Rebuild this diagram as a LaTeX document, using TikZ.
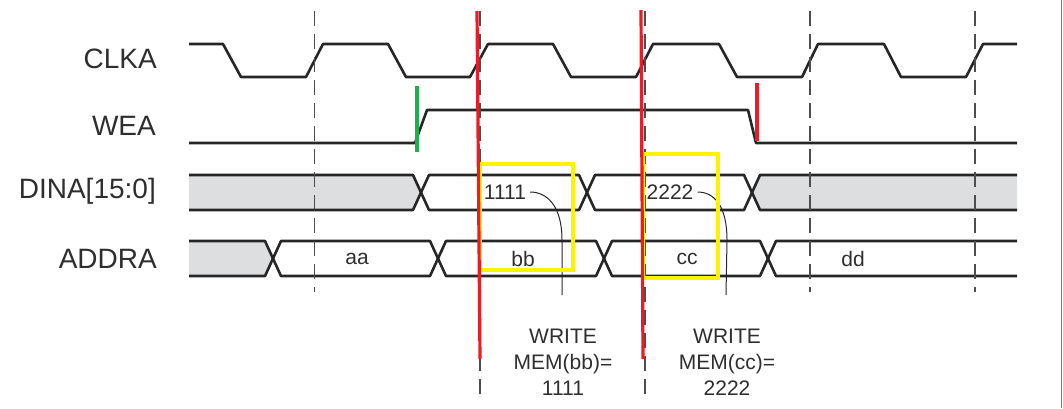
\documentclass[tikz,border=0pt]{standalone}
\usepackage{fontspec}
\setmainfont{Liberation Sans}
\definecolor{wave}{HTML}{262626}
\definecolor{txt}{HTML}{2E2E2E}
\definecolor{gridc}{HTML}{4D4D4D}
\definecolor{busgray}{HTML}{DDDEE0}
\definecolor{mred}{HTML}{ED1C24}
\definecolor{mgreen}{HTML}{1DB14B}
\definecolor{myellow}{HTML}{FFF200}
\definecolor{mblue}{HTML}{4A86C8}
\tikzset{
  wavel/.style={draw=wave, line width=2.6pt, line join=round},
  gridline/.style={draw=gridc, line width=1.8pt, dash pattern=on 15pt off 8pt},
  sig/.style={text=txt, font=\fontsize{28}{30}\selectfont, anchor=east, inner sep=0pt},
  val/.style={text=txt, font=\fontsize{21}{24}\selectfont, inner sep=0pt},
  note/.style={text=txt, font=\fontsize{21}{26}\selectfont, align=center, inner sep=0pt},
  pointer/.style={draw=wave, line width=1pt},
  markline/.style={line width=3.2pt},
  ybox/.style={draw=myellow, line width=3.2pt},
}
\begin{document}
\begin{tikzpicture}[x=1pt,y=-1pt]
\useasboundingbox (0,0) rectangle (1063,408);
% labels
\node[sig] (lclk) at (157,59) {CLKA};
\node[sig] (lwea) at (156,126) {WEA};
\node[sig] (ldin) at (156,191) {DINA[15:0]};
\node[sig] (ladr) at (157,259) {ADDRA};
% bus gray fills
\fill[busgray] (189,175) -- (413,175) -- (421,192.5) -- (413,210) -- (189,210) -- cycle;
\fill[busgray] (760,175) -- (1017,175) -- (1017,210) -- (760,210) -- (752,192.5) -- cycle;
\fill[busgray] (189,241) -- (265,241) -- (273,258.5) -- (265,276) -- (189,276) -- cycle;
% CLKA
\draw[wavel] (189,44) -- (223,44) -- (241,77) -- (306,77) -- (323,44) -- (388,44) -- (406,77)
  -- (470,77) -- (488,44) -- (553,44) -- (571,77) -- (636,77) -- (653,44) -- (719,44)
  -- (737,77) -- (802,77) -- (818,44) -- (884,44) -- (901,77) -- (966,77) -- (983,44) -- (1017,44);
% WEA
\draw[wavel] (189,143) -- (415,143) -- (427,110) -- (748,110) -- (756,143) -- (1017,143);
% DINA
\draw[wavel] (189,175) -- (413,175) -- (429,210) -- (579,210) -- (595,175) -- (744,175) -- (760,210) -- (1017,210);
\draw[wavel] (189,210) -- (413,210) -- (429,175) -- (579,175) -- (595,210) -- (744,210) -- (760,175) -- (1017,175);
% ADDRA
\draw[wavel] (189,241) -- (265,241) -- (281,276) -- (430,276) -- (446,241) -- (596,241) -- (612,276) -- (760,276) -- (776,241) -- (1017,241);
\draw[wavel] (189,276) -- (265,276) -- (281,241) -- (430,241) -- (446,276) -- (596,276) -- (612,241) -- (760,241) -- (776,276) -- (1017,276);
% dashed grid lines
\draw[gridline] (314.5,11) -- (314.5,292);
\draw[gridline] (480,11) -- (480,397);
\draw[gridline] (645,11) -- (645,397);
\draw[gridline] (810,11) -- (810,292);
\draw[gridline] (975,11) -- (975,292);
% values
\node[val] (vaa) at (357,259) {aa};
\node[val] (vbb) at (523,259) {bb};
\node[val] (vcc) at (687,259) {cc};
\node[val] (vdd) at (853,259) {dd};
\node[val] (v1) at (505,192) {1111};
\node[val] (v2) at (670,192) {2222};
% pointers
\coordinate (p1) at (562,295);
\coordinate (p2) at (726,295);
\draw[pointer] ([xshift=4pt]v1.east) .. controls +(16,0) and (562,205) .. (562,240) -- (p1);
\draw[pointer] ([xshift=4pt]v2.east) .. controls +(16,0) and (727,205) .. (727,240) -- (p2);
% yellow boxes
\draw[ybox] (480,164) rectangle (573,270);
\draw[ybox] (643,154) rectangle (718,278);
% red / green marks
\draw[markline, mred] (477,11) -- (480,359);
\draw[markline, mred] (641,10) -- (643,359);
\draw[markline, mgreen] (417,86) -- (417,152);
\draw[markline, mred] (757,83) -- (757,141);
% notes
\node[note] (n1) at (563,362) {WRITE\\MEM(bb)=\\1111};
\node[note] (n2) at (727,362) {WRITE\\MEM(cc)=\\2222};
% right border
\draw[mblue, line width=1.5pt] (1061.5,0) -- (1061.5,408);
\end{tikzpicture}
\end{document}
